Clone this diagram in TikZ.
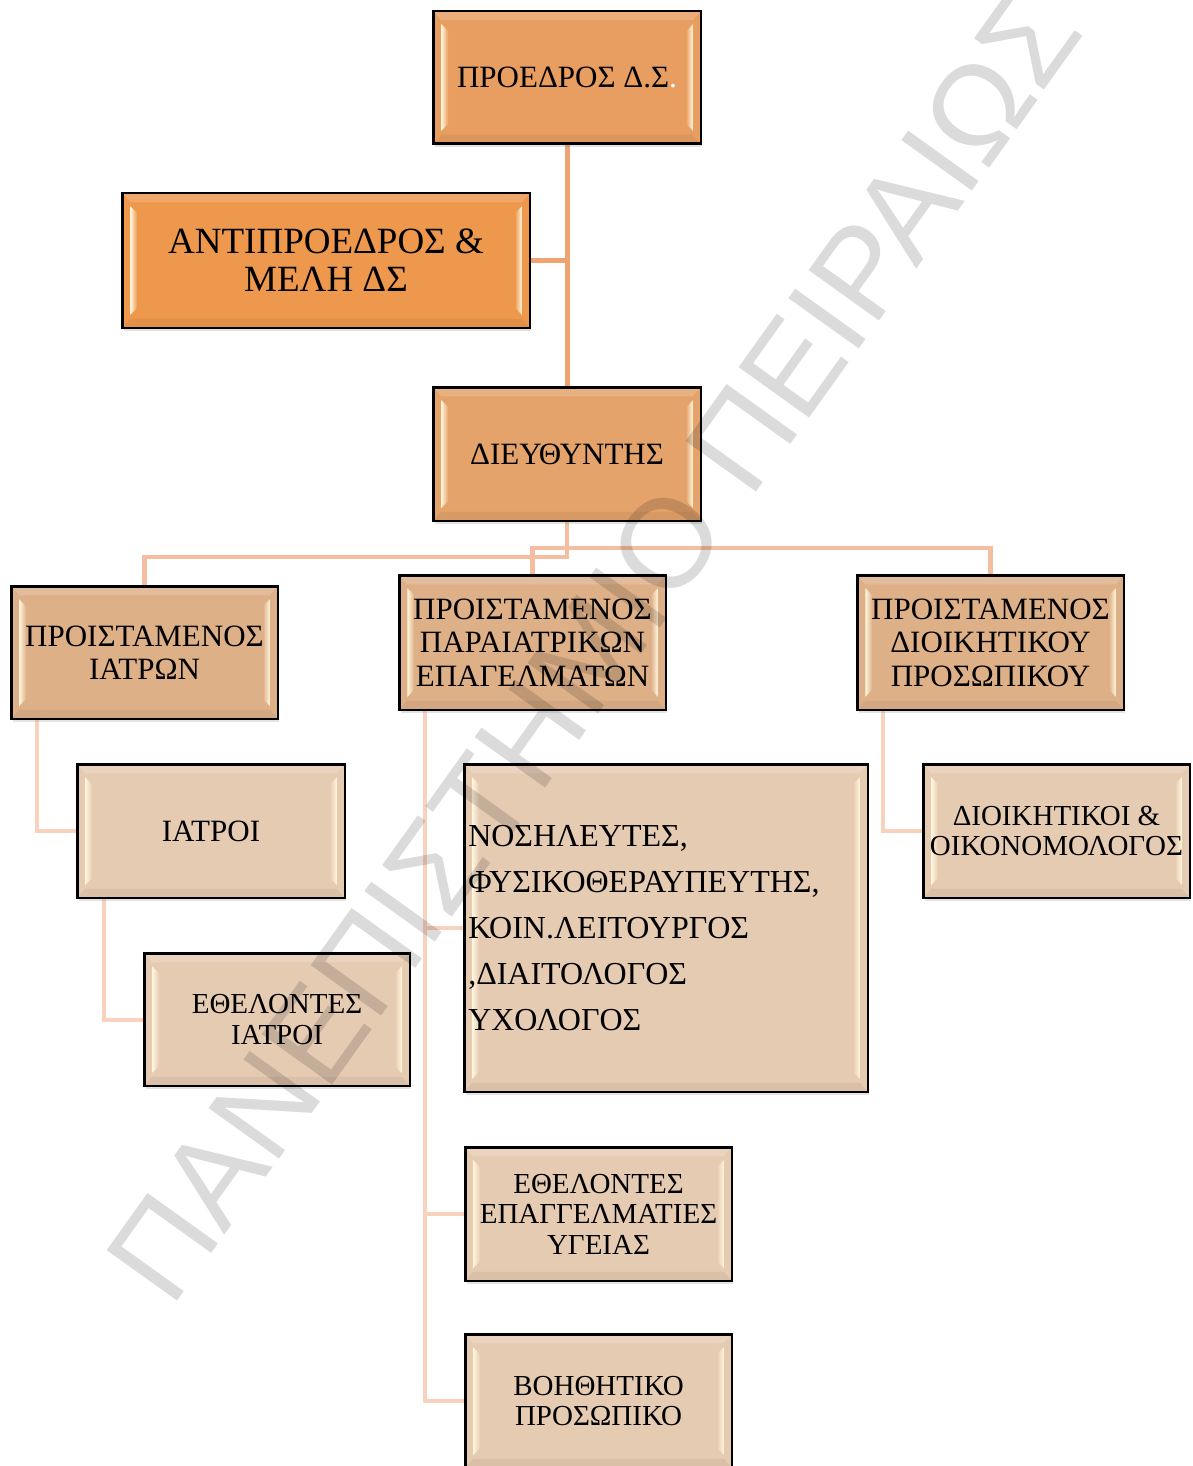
\documentclass[tikz,border=0pt]{standalone}
\usepackage{fontspec}
\setmainfont{Liberation Serif}
\newfontfamily\wmfont{Liberation Sans}
\usetikzlibrary{calc,shadows}
\definecolor{cA}{RGB}{232,158,96}
\definecolor{cB}{RGB}{237,152,77}
\definecolor{cC}{RGB}{228,163,107}
\definecolor{cD}{RGB}{222,176,136}
\definecolor{cE}{RGB}{230,203,179}
\definecolor{hl}{RGB}{255,246,220}
\definecolor{lnA}{RGB}{240,162,112}
\definecolor{lnB}{RGB}{246,190,160}
\definecolor{lnC}{RGB}{249,210,190}
\pgfdeclarelayer{paper}
\pgfdeclarelayer{bg}
\pgfsetlayers{paper,bg,main}
\tikzset{
  bevbox/.style={rectangle, draw=black, line width=2.5pt, fill=#1, inner sep=0pt, align=center,
    drop shadow={shadow xshift=1.5pt, shadow yshift=-3pt, opacity=0.22},
    path picture={
      \fill[white, opacity=0.16] (path picture bounding box.north west) -- (path picture bounding box.north east) -- ($(path picture bounding box.north east)+(-8pt,-9pt)$) -- ($(path picture bounding box.north west)+(8pt,-9pt)$) -- cycle;
      \fill[black, opacity=0.05] (path picture bounding box.south west) -- (path picture bounding box.south east) -- ($(path picture bounding box.south east)+(-8pt,9pt)$) -- ($(path picture bounding box.south west)+(8pt,9pt)$) -- cycle;
      \shade[left color=hl, right color=#1] ($(path picture bounding box.north west)+(8pt,-13pt)$) -- ($(path picture bounding box.north west)+(15pt,-20pt)$) -- ($(path picture bounding box.south west)+(15pt,20pt)$) -- ($(path picture bounding box.south west)+(8pt,13pt)$) -- cycle;
      \shade[left color=#1, right color=hl] ($(path picture bounding box.north east)+(-8pt,-13pt)$) -- ($(path picture bounding box.north east)+(-15pt,-20pt)$) -- ($(path picture bounding box.south east)+(-15pt,20pt)$) -- ($(path picture bounding box.south east)+(-8pt,13pt)$) -- cycle;
    }},
  fA/.style={font=\fontsize{31}{33.5}\selectfont},
  fB/.style={font=\fontsize{29}{30.5}\selectfont},
  lineA/.style={draw=lnA, line width=5pt},
  lineB/.style={draw=lnB, line width=4.5pt},
  lineC/.style={draw=lnC, line width=4pt},
}
\begin{document}
\begin{tikzpicture}[x=1pt,y=-1pt]
\begin{pgfonlayer}{paper}
\fill[white] (0,0) rectangle (1192,1466);
\end{pgfonlayer}
\useasboundingbox (0,0) rectangle (1192,1466);

\node[bevbox=cA, fA, minimum width=267.5pt, minimum height=132.5pt] (pres) at (567,77.5) {ΠΡΟΕΔΡΟΣ Δ.Σ\textcolor{white}{.}};
\node[bevbox=cB, font=\fontsize{37}{38}\selectfont, minimum width=407.5pt, minimum height=134.5pt] (anti) at (326,260.5) {ΑΝΤΙΠΡΟΕΔΡΟΣ \&\\ΜΕΛΗ ΔΣ};
\node[bevbox=cC, fA, minimum width=267.5pt, minimum height=133.5pt] (dir) at (567,454) {ΔΙΕΥΘΥΝΤΗΣ};

\node[bevbox=cD, fA, minimum width=266.5pt, minimum height=132.5pt] (ia) at (144.5,652.5) {ΠΡΟΙΣΤΑΜΕΝΟΣ\\ΙΑΤΡΩΝ};
\node[bevbox=cD, fA, minimum width=266.5pt, minimum height=134.5pt] (para) at (532.5,642.5) {ΠΡΟΙΣΤΑΜΕΝΟΣ\\ΠΑΡΑΙΑΤΡΙΚΩΝ\\ΕΠΑΓΕΛΜΑΤΩΝ};
\node[bevbox=cD, fA, minimum width=266.5pt, minimum height=134.5pt] (dio) at (990.5,642.5) {ΠΡΟΙΣΤΑΜΕΝΟΣ\\ΔΙΟΙΚΗΤΙΚΟΥ\\ΠΡΟΣΩΠΙΚΟΥ};

\node[bevbox=cE, fA, minimum width=267.5pt, minimum height=133.5pt] (iatroi) at (211,831) {ΙΑΤΡΟΙ};
\node[bevbox=cE, font=\fontsize{29}{31}\selectfont, minimum width=265.5pt, minimum height=132.5pt] (ethi) at (277,1019.5) {ΕΘΕΛΟΝΤΕΣ\\ΙΑΤΡΟΙ};
\node[bevbox=cE, font=\fontsize{32}{46}\selectfont, align=left, inner xsep=4pt, text width=395.5pt, minimum width=403.5pt, minimum height=327.5pt] (nos) at (666,928) {ΝΟΣΗΛΕΥΤΕΣ,\\ΦΥΣΙΚΟΘΕΡΑΥΠΕΥΤΗΣ,\\ΚΟΙΝ.ΛΕΙΤΟΥΡΓΟΣ\\,ΔΙΑΙΤΟΛΟΓΟΣ\\ΥΧΟΛΟΓΟΣ};
\node[bevbox=cE, fB, minimum width=266.5pt, minimum height=133.5pt] (dioik) at (1056.5,831) {ΔΙΟΙΚΗΤΙΚΟΙ \&\\ΟΙΚΟΝΟΜΟΛΟΓΟΣ};
\node[bevbox=cE, fB, minimum width=266.5pt, minimum height=133.5pt] (ethep) at (598.5,1214) {ΕΘΕΛΟΝΤΕΣ\\ΕΠΑΓΓΕΛΜΑΤΙΕΣ\\ΥΓΕΙΑΣ};
\node[bevbox=cE, fB, minimum width=266.5pt, minimum height=133.5pt] (voh) at (598.5,1401) {ΒΟΗΘΗΤΙΚΟ\\ΠΡΟΣΩΠΙΚΟ};

\begin{pgfonlayer}{bg}
\draw[lineA] (pres.south) -- (dir.north);
\draw[lineA] (anti.east) -- (anti.east -| pres.south);
\draw[lineB] (dir.south) -- ++(0,35) -| (ia.north);
\draw[lineB] (para.north) -- ++(0,-26) -| (dio.north);
\draw[lineC] ([xshift=27pt]ia.south west) |- (iatroi.west);
\draw[lineC] ([xshift=28pt]iatroi.south west) |- (ethi.west);
\draw[lineC] ([xshift=27pt]para.south west) |- (voh.west);
\draw[lineC] ([xshift=27pt]para.south west) |- (nos.west);
\draw[lineC] ([xshift=27pt]para.south west) |- (ethep.west);
\draw[lineC] ([xshift=27pt]dio.south west) |- (dioik.west);
\end{pgfonlayer}

\node[font=\wmfont\fontsize{126}{130}\selectfont, text=black, text opacity=0.14, rotate=54.4, anchor=base, inner sep=0pt] (wm) at (629,671) {ΠΑΝΕΠΙΣΤΗΜΙΟ ΠΕΙΡΑΙΩΣ};
\end{tikzpicture}
\end{document}
